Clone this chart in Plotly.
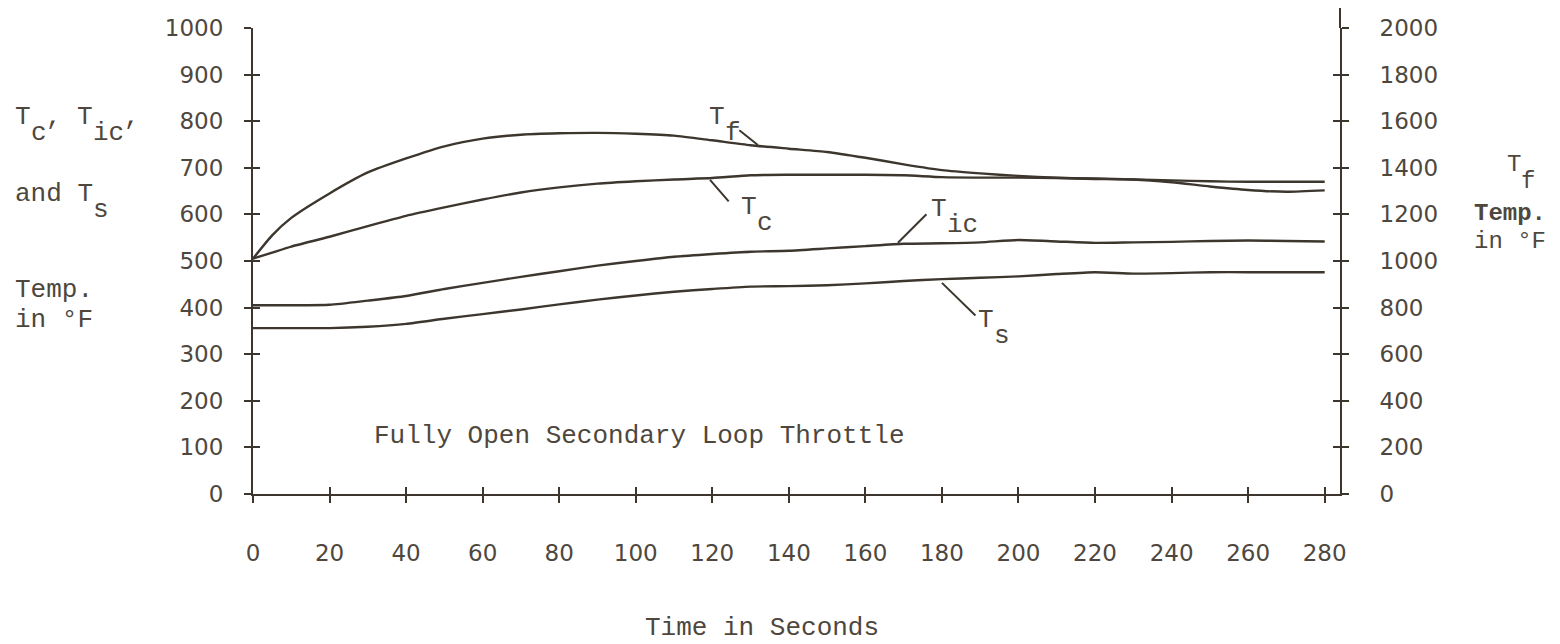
import plotly.graph_objects as go

# ---- data ----
time_s = [0, 5, 10, 20, 30, 40, 50, 60, 70, 80, 90, 100, 110, 120, 130, 140,
          150, 160, 170, 180, 190, 200, 210, 220, 230, 240, 250, 260, 270, 280]
t_f = [1010, 1110, 1185, 1290, 1380, 1440, 1492, 1525, 1542, 1548, 1550, 1546, 1538, 1518, 1497, 1482,
       1468, 1443, 1415, 1390, 1376, 1365, 1357, 1352, 1350, 1338, 1320, 1305, 1297, 1303]
t_c = [505, 518, 531, 552, 575, 597, 615, 632, 647, 658, 666, 671, 675, 678, 684, 685,
       685, 685, 684, 680, 679, 679, 678, 677, 675, 673, 671, 670, 670, 670]
t_ic = [405, 405, 405, 406, 415, 425, 440, 453, 466, 478, 490, 500, 509, 515, 520, 522,
        527, 532, 537, 538, 540, 545, 542, 539, 540, 541, 543, 544, 543, 542]
t_s = [356, 356, 356, 356, 359, 365, 376, 386, 396, 407, 417, 426, 434, 440, 445, 446,
       448, 452, 457, 461, 464, 467, 472, 476, 473, 474, 476, 476, 476, 476]

x_ticks = [0, 20, 40, 60, 80, 100, 120, 140, 160, 180, 200, 220, 240, 260, 280]
left_ticks = [0, 100, 200, 300, 400, 500, 600, 700, 800, 900, 1000]
right_ticks = [0, 200, 400, 600, 800, 1000, 1200, 1400, 1600, 1800, 2000]

# ---- styling ----
INK = "#3d362e"
TXT = "#4e473e"
MONO = "Liberation Mono"
SANS = "DejaVu Sans"
W, H = 1560, 644
L, R, T, B = 253, 220, 28, 150
PW, PH = W - L - R, H - T - B


def px(x):
    return (x - L) / PW


def py(y):
    return (H - B - y) / PH


line = dict(color=INK, width=2.4, shape="spline", smoothing=0.6)

fig = go.Figure()
fig.add_trace(go.Scatter(x=time_s, y=t_c, mode="lines", line=line, name="Tc",
                         xaxis="x", yaxis="y", showlegend=False))
fig.add_trace(go.Scatter(x=time_s, y=t_ic, mode="lines", line=line, name="Tic",
                         xaxis="x", yaxis="y", showlegend=False))
fig.add_trace(go.Scatter(x=time_s, y=t_s, mode="lines", line=line, name="Ts",
                         xaxis="x", yaxis="y", showlegend=False))
fig.add_trace(go.Scatter(x=time_s, y=t_f, mode="lines", line=line, name="Tf",
                         xaxis="x", yaxis="y2", showlegend=False))
# empty traces so the crossing-tick overlay axes get drawn
fig.add_trace(go.Scatter(x=[], y=[], xaxis="x2", yaxis="y3", showlegend=False, hoverinfo="skip"))
fig.add_trace(go.Scatter(x=[], y=[], xaxis="x2", yaxis="y4", showlegend=False, hoverinfo="skip"))

tickfont = dict(family=SANS, size=23, color=TXT)
common = dict(showgrid=False, zeroline=False, linecolor=INK, linewidth=2,
              tickcolor=INK, tickwidth=2, ticklen=7)

fig.update_layout(
    width=W, height=H,
    margin=dict(l=L, r=R, t=T, b=B, pad=0),
    paper_bgcolor="white", plot_bgcolor="white",
    xaxis=dict(range=[0, 284], tickvals=x_ticks, ticks="outside", showline=True,
               tickfont=tickfont, ticklabelstandoff=30, anchor="y", **common),
    xaxis2=dict(range=[0, 284], tickvals=x_ticks, ticks="inside", showline=False,
                showticklabels=False, overlaying="x", anchor="y", **common),
    yaxis=dict(range=[0, 1000], tickvals=left_ticks, ticks="outside", showline=True,
               tickfont=tickfont, ticklabelstandoff=16, anchor="x", **common),
    yaxis2=dict(range=[0, 2000], tickvals=right_ticks, ticks="outside", showline=True,
                side="right", overlaying="y", tickfont=tickfont, ticklabelstandoff=26,
                anchor="x", **common),
    yaxis3=dict(range=[0, 1000], tickvals=left_ticks, ticks="inside", showline=False,
                showticklabels=False, overlaying="y", side="left", anchor="x2", **common),
    yaxis4=dict(range=[0, 2000], tickvals=right_ticks, ticks="inside", showline=False,
                showticklabels=False, overlaying="y", side="right", anchor="x2", **common),
    shapes=[dict(type="line", xref="paper", yref="paper", x0=1, x1=1, y0=1, y1=py(8),
                 line=dict(color=INK, width=2))],
)

F26 = dict(family=MONO, size=26, color=TXT)
F24 = dict(family=MONO, size=24, color=TXT)
ann = []


def text(s, x, y, xanchor="left", font=F26):
    ann.append(dict(text=s, x=px(x), y=py(y), xref="paper", yref="paper",
                    xanchor=xanchor, yanchor="middle", showarrow=False, font=font,
                    borderpad=0))


def typed(pieces, x, y, font=F26, drop=16):
    # typewriter style: each piece sits in fixed character cells; subscripts are
    # full-size characters dropped half a line
    cw = 0.6 * font["size"]
    for cell, s, sub in pieces:
        text(s, x + cell * cw, y + (drop if sub else 0), font=font)


typed([(0, "T", 0), (1, "c", 1), (2, ",", 0), (4, "T", 0), (5, "ic", 1), (7, ",", 0)], 14, 117)
typed([(0, "and T", 0), (5, "s", 1)], 14, 194)
text("Temp.", 14, 290)
text("in °F", 14, 320)
typed([(0, "T", 0), (1, "f", 1)], 1506, 165, font=F24)
text("<b>Temp.</b>", 1473, 213, font=F24)
text("in °F", 1473, 242, font=F24)
text("Fully Open Secondary Loop Throttle", 373, 436)
text("Time in Seconds", 762, 628, xanchor="center")

# curve labels
typed([(0, "T", 0), (1, "f", 1)], 708, 117)
typed([(0, "T", 0), (1, "c", 1)], 740, 207)
typed([(0, "T", 0), (1, "ic", 1)], 930, 209)
typed([(0, "T", 0), (1, "s", 1)], 977, 320)

# leader lines (heads on the curves, tails toward the labels)
lead = dict(showarrow=True, arrowhead=0, arrowwidth=2, arrowcolor=INK, text="",
            axref="pixel", ayref="pixel")
ann.append(dict(x=131.9, y=1498, xref="x", yref="y2", ax=-20, ay=-16, **lead))
ann.append(dict(x=119.4, y=674, xref="x", yref="y", ax=20, ay=23, **lead))
ann.append(dict(x=168.5, y=539, xref="x", yref="y", ax=30, ay=-30, **lead))
ann.append(dict(x=180, y=453, xref="x", yref="y", ax=35, ay=34, **lead))

fig.update_layout(annotations=ann)

fig.write_html("out.html", config={"displayModeBar": False},
               post_script="document.body.style.margin='0';")
